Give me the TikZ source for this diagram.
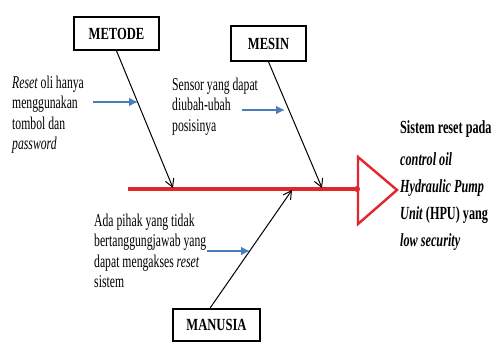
\documentclass[tikz,border=0pt]{standalone}
\usepackage{fontspec}
\setmainfont{Liberation Serif}[FakeStretch=0.65]
\newfontfamily\resfont{Liberation Serif}[FakeStretch=0.66]
\newfontfamily\boxfont{Liberation Serif}[FakeStretch=0.74]
\usetikzlibrary{arrows.meta}
\definecolor{spinered}{HTML}{E3262E}
\definecolor{causeblue}{HTML}{4A7EBB}
\begin{document}
\begin{tikzpicture}[x=1pt,y=-1pt,
  catbox/.style={draw=black,line width=1.7pt,fill=white,inner sep=0pt,font=\boxfont\fontsize{17}{18}\selectfont\bfseries},
  bone/.style={draw=black,line width=1pt,-{Straight Barb[length=8pt,width=9pt,line width=1pt]}},
  causearrow/.style={draw=causeblue,line width=2pt,-{Latex[length=9pt,width=9pt]}},
  causetext/.style={anchor=west,align=left,inner sep=0pt,font=\fontsize{18}{20.5}\selectfont},
  spine/.style={draw=spinered,line width=3.2pt},
  ]
\useasboundingbox (0,0) rectangle (494,345);
\fill[white] (0,0) rectangle (494,345);

\node[catbox,minimum width=85pt,minimum height=33pt] (metode) at (116.5,33.5) {METODE};
\node[catbox,minimum width=75pt,minimum height=35pt] (mesin) at (268.5,43.5) {MESIN};
\node[catbox,minimum width=87pt,minimum height=32pt] (manusia) at (216.5,325) {MANUSIA};

\coordinate (tail) at (128,189);
\coordinate (head) at (357,189);
\coordinate (jm) at (173,188);
\coordinate (js) at (322,188);
\coordinate (jn) at (292,190);

\draw[spine] (tail) -- (head);
\fill[spinered] (head) circle (3pt);
\draw[spinered,line width=2.4pt,line join=miter] (358,157) -- (397,190) -- (358,224) -- cycle;

\draw[bone] (metode.south) -- (jm);
\draw[bone] (mesin.south) -- (js);
\draw[bone] ([xshift=-6.5pt]manusia.north) -- (jn);

\coordinate (a1s) at (93,102);  \coordinate (a1e) at (138,102);
\coordinate (a2s) at (242,110); \coordinate (a2e) at (285,110);
\coordinate (a3s) at (207,251); \coordinate (a3e) at (250,251);
\draw[causearrow] (a1s) -- (a1e);
\draw[causearrow] (a2s) -- (a2e);
\draw[causearrow] (a3s) -- (a3e);

\node[causetext] (t1) at (12,114.5) {\textit{Reset} oli hanya\\menggunakan\\tombol dan\\\textit{password}};
\node[causetext] (t2) at (172,106.5) {Sensor yang dapat\\diubah-ubah\\posisinya};
\node[causetext] (t3) at (94,251) {Ada pihak yang tidak\\bertanggungjawab yang\\dapat mengakses \textit{reset}\\sistem};
\node[anchor=west,align=left,inner sep=0pt,font=\resfont\bfseries\fontsize{18.5}{27}\selectfont] (effect) at (400,186) {Sistem reset pada\\[5pt]\textit{control oil}\\\textit{Hydraulic Pump}\\\textit{Unit} (HPU) yang\\\textit{low security}};
\end{tikzpicture}
\end{document}
